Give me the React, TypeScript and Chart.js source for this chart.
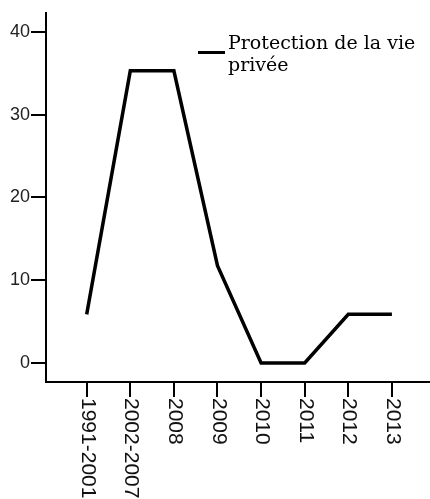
import React, { useEffect, useRef } from "react";
import { Chart, registerables } from "chart.js";

Chart.register(...registerables);

const categories = ["1991-2001", "2002-2007", "2008", "2009", "2010", "2011", "2012", "2013"];
const values = [5.88, 35.29, 35.29, 11.76, 0, 0, 5.88, 5.88];
const yTicks = [0, 10, 20, 30, 40];
const legendLines = ["Protection de la vie", "privée"];

export default function App() {
  const ref = useRef<HTMLCanvasElement | null>(null);

  useEffect(() => {
    if (!ref.current) return;
    const overlay = {
      id: "overlay",
      afterDraw(chart: any) {
        const ctx = chart.ctx;
        const xs = chart.scales.x;
        ctx.save();
        ctx.fillStyle = "#111";
        ctx.font = "21px 'Liberation Sans', Arial, sans-serif";
        ctx.textAlign = "left";
        ctx.textBaseline = "middle";
        categories.forEach((c, i) => {
          const px = xs.getPixelForValue(i);
          ctx.save();
          ctx.translate(px + 1, xs.top + 16);
          ctx.rotate(Math.PI / 2);
          ctx.fillText(c, 0, 0);
          ctx.restore();
        });
        // legend
        ctx.strokeStyle = "#000";
        ctx.lineWidth = 3;
        ctx.beginPath();
        ctx.moveTo(198, 52.5);
        ctx.lineTo(225, 52.5);
        ctx.stroke();
        ctx.fillStyle = "#000";
        ctx.font = "19px 'DejaVu Serif', serif";
        ctx.textBaseline = "alphabetic";
        ctx.fillText(legendLines[0], 228, 49);
        ctx.fillText(legendLines[1], 228, 71);
        ctx.restore();
      },
    };

    const chart = new Chart(ref.current, {
      type: "line",
      data: {
        datasets: [
          {
            label: legendLines.join(" "),
            data: values.map((v, i) => ({ x: i, y: v })),
            borderColor: "#000",
            borderWidth: 3.5,
            pointRadius: 0,
            tension: 0,
            fill: false,
          },
        ],
      },
      options: {
        animation: false,
        responsive: false,
        layout: { padding: { top: 13, right: 0, left: 0, bottom: 0 } },
        plugins: { legend: { display: false }, tooltip: { enabled: false } },
        scales: {
          x: {
            type: "linear",
            min: -0.933,
            max: 7.874,
            afterBuildTicks: (s: any) => {
              s.ticks = categories.map((_, i) => ({ value: i }));
            },
            afterFit: (s: any) => {
              s.height = 117;
            },
            ticks: { display: false },
            grid: {
              display: true,
              drawOnChartArea: false,
              drawTicks: true,
              tickLength: 15,
              color: "#000",
              lineWidth: 2,
            },
            border: { display: true, color: "#000", width: 2 },
          },
          y: {
            type: "linear",
            min: -2.29,
            max: 42.28,
            afterBuildTicks: (s: any) => {
              s.ticks = yTicks.map((v) => ({ value: v }));
            },
            afterFit: (s: any) => {
              s.width = 46;
            },
            ticks: {
              color: "#222",
              font: { family: "'Liberation Sans', Arial, sans-serif", size: 18 },
              padding: 1,
            },
            grid: {
              display: true,
              drawOnChartArea: false,
              drawTicks: true,
              tickLength: 15,
              color: "#000",
              lineWidth: 2,
            },
            border: { display: true, color: "#000", width: 2 },
          },
        },
      },
      plugins: [overlay],
    });
    return () => chart.destroy();
  }, []);

  return (
    <div style={{ position: "absolute", left: 0, top: 0, width: 430, height: 499 }}>
      <canvas ref={ref} width={430} height={499} style={{ display: "block" }} />
    </div>
  );
}
